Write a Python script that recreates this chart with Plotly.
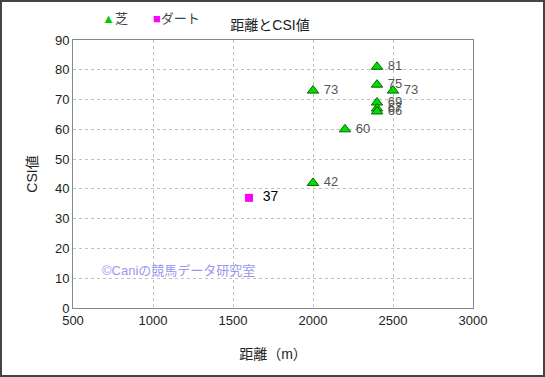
import plotly.graph_objects as go

turf_dist = [2000, 2000, 2200, 2400, 2400, 2400, 2400, 2400, 2500]
turf_csi = [73, 42, 60, 81, 75, 69, 67, 66, 73]
dirt_dist = [1600]
dirt_csi = [37]
legend_names = ["芝", "ダート"]

W, H = 545, 377
L, R, T, B = 73, 72, 40, 69
pw, ph = W - L - R, H - T - B

FONT = "Liberation Sans, Noto Sans CJK JP, sans-serif"

fig = go.Figure()
fig.add_trace(go.Scatter(
    x=turf_dist, y=turf_csi, mode="markers+text", name=legend_names[0],
    marker=dict(symbol="triangle-up", size=10, color="#00dd00",
                line=dict(color="#006600", width=1)),
    text=[" " + str(v) for v in turf_csi], textposition="middle right",
    textfont=dict(color="#555555", size=13, family=FONT),
))
fig.add_trace(go.Scatter(
    x=dirt_dist, y=dirt_csi, mode="markers+text", name=legend_names[1],
    marker=dict(symbol="square", size=8, color="#ff00ff"),
    text=["  " + str(v) for v in dirt_csi], textposition="middle right",
    textfont=dict(color="#000000", size=14, family=FONT),
))

def px_x(p):
    return (p - L) / pw

def px_y(p):
    return (H - B - p) / ph

fig.update_layout(
    width=W, height=H,
    margin=dict(l=L, r=R, t=T, b=B, autoexpand=False),
    paper_bgcolor="white", plot_bgcolor="white",
    font=dict(family=FONT, size=13, color="#222222"),
    title=dict(text="距離とCSI値", x=270 / W, xanchor="center",
               y=1 - 25 / H, yanchor="middle", font=dict(size=14, color="#222222")),
    showlegend=False,
    xaxis=dict(range=[500, 3000], dtick=500, showgrid=True, gridcolor="#c0c0c0",
               griddash="dot", gridwidth=1, zeroline=False, showline=True,
               linecolor="#888888", linewidth=1, mirror=True, ticks="", automargin=False,
               title=dict(text="距離（m）", font=dict(size=14), standoff=22),
               tickfont=dict(size=13)),
    yaxis=dict(range=[0, 90], dtick=10, showgrid=True, gridcolor="#c0c0c0",
               griddash="dot", gridwidth=1, zeroline=False, showline=True,
               linecolor="#888888", linewidth=1, mirror=True, ticks="", automargin=False,
               title=dict(text="CSI値", font=dict(size=14), standoff=14),
               tickfont=dict(size=13)),
)

# manual legend
fig.add_annotation(
    text="<span style='color:#00cc00'>▲</span>" + legend_names[0], xref="paper", yref="paper",
    x=px_x(100), y=px_y(18), xanchor="left", yanchor="middle", showarrow=False,
    font=dict(size=13, color="#444444", family=FONT),
)
fig.add_annotation(
    text="<span style='color:#ff00ff'>■</span>" + legend_names[1], xref="paper", yref="paper",
    x=px_x(151), y=px_y(18), xanchor="left", yanchor="middle", showarrow=False,
    font=dict(size=13, color="#444444", family=FONT),
)

fig.add_annotation(
    text="©Caniの競馬データ研究室", xref="paper", yref="paper",
    x=px_x(100), y=px_y(270), xanchor="left", yanchor="middle", showarrow=False,
    font=dict(size=13, color="#9999ee", family=FONT),
)

fig.add_shape(type="rect", xref="paper", yref="paper",
              x0=px_x(1), x1=px_x(544), y0=px_y(376), y1=px_y(1),
              line=dict(color="#444444", width=2), fillcolor="rgba(0,0,0,0)", layer="below")

fig.write_html("out.html", config={"displayModeBar": False},
               post_script="document.body.style.margin='0';")
